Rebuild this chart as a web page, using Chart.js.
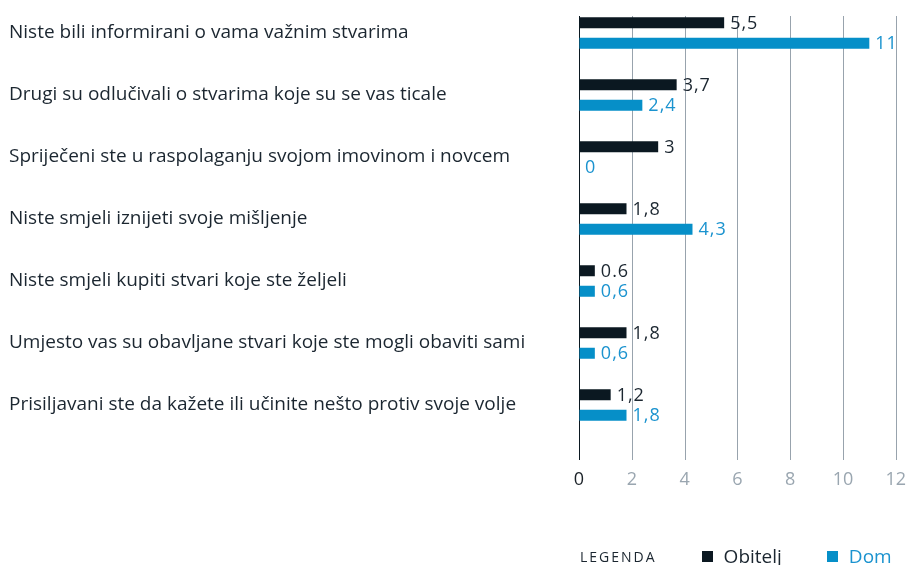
<!DOCTYPE html>
<html>
<head>
<meta charset="utf-8">
<script src="https://cdn.jsdelivr.net/npm/chart.js@4.4.0/dist/chart.umd.min.js"></script>
<style>
    html, body { margin: 0; padding: 0; background: #fff; overflow: hidden; }
    #wrap { position: relative; width: 909px; height: 565px; }
    #chart { display: block; }
    #legend {
        position: absolute; left: 580px; top: 543px;
        font-family: "Open Sans", sans-serif; font-size: 19px; color: #1b2630;
        display: flex; align-items: center; white-space: nowrap;
    }
    #legend .title { font-size: 14px; letter-spacing: 2px; margin-right: 45px; }
    #legend .box { display: inline-block; width: 11px; height: 11px; margin-right: 11px; }
    #legend .item { display: flex; align-items: center; margin-right: 45px; }
</style>
</head>
<body>
<div id="wrap">
    <canvas id="chart" width="909" height="565"></canvas>
    <div id="legend">
        <span class="title">LEGENDA</span>
        <span class="item"><span class="box" style="background:#0b1821"></span>Obitelj</span>
        <span class="item" style="color:#1b93cf"><span class="box" style="background:#068fc8"></span>Dom</span>
    </div>
</div>
<script>
const categories = [
    'Niste bili informirani o vama važnim stvarima',
    'Drugi su odlučivali o stvarima koje su se vas ticale',
    'Spriječeni ste u raspolaganju svojom imovinom i novcem',
    'Niste smjeli iznijeti svoje mišljenje',
    'Niste smjeli kupiti stvari koje ste željeli',
    'Umjesto vas su obavljane stvari koje ste mogli obaviti sami',
    'Prisiljavani ste da kažete ili učinite nešto protiv svoje volje'
];
const obitelj = [5.5, 3.7, 3, 1.8, 0.6, 1.8, 1.2];
const dom = [11, 2.4, 0, 4.3, 0.6, 0.6, 1.8];
const obiteljLabels = ['5,5', '3,7', '3', '1,8', '0.6', '1,8', '1,2'];
const domLabels = ['11', '2,4', '0', '4,3', '0,6', '0,6', '1,8'];
const xTicks = [0, 2, 4, 6, 8, 10, 12];

const FONT = '"Open Sans", sans-serif';

// vertical grid lines run a bit past the bar area, like the original
const gridPlugin = {
    id: 'gridLines',
    beforeDatasetsDraw(chart) {
        const { ctx, chartArea, scales } = chart;
        const top = chartArea.top + 14;
        const bottom = chartArea.bottom + 24;
        ctx.save();
        xTicks.forEach((t) => {
            const x = Math.round(scales.x.getPixelForValue(t)) + 0.5;
            ctx.strokeStyle = t === 0 ? '#0b1821' : '#98a3ad';
            ctx.lineWidth = 1;
            ctx.beginPath();
            ctx.moveTo(x, top);
            ctx.lineTo(x, bottom);
            ctx.stroke();
        });
        ctx.restore();
    }
};

const valuePlugin = {
    id: 'valueLabels',
    afterDatasetsDraw(chart) {
        const { ctx } = chart;
        const texts = [obiteljLabels, domLabels];
        const colors = ['#1b2630', '#1b93cf'];
        ctx.save();
        ctx.font = '18px ' + FONT;
        ctx.letterSpacing = '1px';
        ctx.textBaseline = 'middle';
        ctx.textAlign = 'left';
        chart.data.datasets.forEach((ds, i) => {
            const meta = chart.getDatasetMeta(i);
            meta.data.forEach((bar, j) => {
                ctx.fillStyle = colors[i];
                ctx.fillText(texts[i][j], bar.x + 6, bar.y + 1);
            });
        });
        ctx.restore();
    }
};

new Chart(document.getElementById('chart'), {
    type: 'bar',
    data: {
        labels: categories,
        datasets: [
            { label: 'Obitelj', data: obitelj, backgroundColor: '#0b1821',
              categoryPercentage: 0.667, barPercentage: 0.53 },
            { label: 'Dom', data: dom, backgroundColor: '#068fc8',
              categoryPercentage: 0.667, barPercentage: 0.53 }
        ]
    },
    plugins: [gridPlugin, valuePlugin],
    options: {
        indexAxis: 'y',
        responsive: false,
        animation: false,
        layout: { padding: { left: 9, right: 12, top: 2, bottom: 75 } },
        plugins: {
            legend: { display: false },
            tooltip: { enabled: false }
        },
        scales: {
            x: {
                min: 0,
                max: 12,
                afterBuildTicks(scale) {
                    scale.ticks = xTicks.map((v) => ({ value: v }));
                },
                afterFit(scale) { scale.height = 54; },
                grid: { display: true, drawOnChartArea: false, drawTicks: true,
                        tickLength: 30, tickColor: 'rgba(0,0,0,0)' },
                border: { display: false },
                ticks: {
                    padding: 3,
                    font: { family: FONT, size: 18 },
                    color: (c) => c.tick.value === 0 ? '#1b2228' : '#9aa6b0'
                }
            },
            y: {
                afterFit(scale) { scale.width = 570; },
                grid: { display: false, drawTicks: false },
                border: { display: false },
                ticks: {
                    crossAlign: 'far',
                    padding: 0,
                    font: { family: FONT, size: 19, lineHeight: 0.2 },
                    color: '#1b2630'
                }
            }
        }
    }
});
</script>
</body>
</html>
